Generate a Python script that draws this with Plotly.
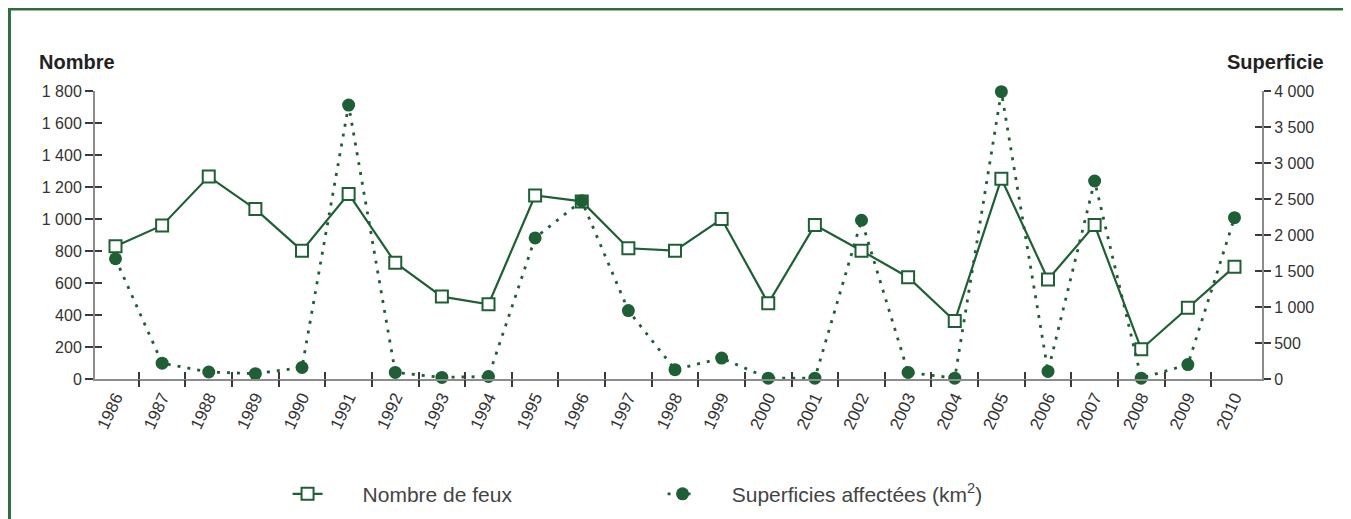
import plotly.graph_objects as go

years = list(range(1986, 2011))
nombre_feux = [830, 960, 1265, 1062, 802, 1157, 727, 515, 467, 1147, 1110, 817, 802, 1000,
               473, 962, 802, 636, 362, 1252, 622, 962, 186, 446, 702]
superficies = [1670, 220, 97, 74, 160, 3805, 92, 22, 35, 1960, 2475, 950, 130, 290,
               12, 12, 2205, 92, 12, 3990, 105, 2750, 12, 200, 2240]
left_ticks = list(range(0, 1801, 200))
right_ticks = list(range(0, 4001, 500))
boundaries = [y + 0.5 for y in years[:-1]]

GREEN = "#1f5f35"
FRAME = "#2e6e3e"
AXIS = "#8c8c8c"
TICK = "#3a3a3a"
TXT = "#333333"
FONT = "Liberation Sans, Arial, sans-serif"
NB = "\u00a0"

xr = [1985.56, 2010.59]

fig = go.Figure()

fig.add_trace(go.Scatter(
    x=years, y=nombre_feux, name=NB * 6 + "Nombre de feux", mode="lines+markers",
    line=dict(color=GREEN, width=2.2),
    marker=dict(symbol="square", size=12, color="white", line=dict(color=GREEN, width=2)),
    cliponaxis=False, xaxis="x", yaxis="y"))

fig.add_trace(go.Scatter(
    x=years, y=superficies, name=NB * 5 + "Superficies affectées (km<sup>2</sup>)", mode="lines+markers",
    line=dict(color=GREEN, width=2.8, dash="3px,7px"),
    marker=dict(symbol="circle", size=13, color=GREEN),
    cliponaxis=False, xaxis="x", yaxis="y2"))

# helper traces to register the tick-only overlay axes
for xa, ya in [("x2", "y"), ("x3", "y"), ("x", "y3"), ("x", "y4")]:
    fig.add_trace(go.Scatter(x=[None], y=[None], xaxis=xa, yaxis=ya, showlegend=False,
                             hoverinfo="skip", mode="markers"))

fig.update_layout(
    width=1343, height=560,
    margin=dict(l=87, r=89, t=83, b=189),
    paper_bgcolor="white", plot_bgcolor="white",
    font=dict(family=FONT, color=TXT, size=16),
    separators=", ",
    showlegend=True,
    legend=dict(orientation="h", x=0.165, xanchor="left", y=-0.40, yanchor="middle",
                font=dict(size=21, color="#444444"), entrywidth=330, entrywidthmode="pixels",
                bgcolor="rgba(0,0,0,0)"),
    xaxis=dict(range=xr, tickmode="array", tickvals=years, ticktext=[str(y) for y in years],
               tickangle=-65, ticks="", showline=True, linecolor=AXIS, linewidth=2,
               showgrid=False, zeroline=False, tickfont=dict(size=17, color=TXT)),
    xaxis2=dict(range=xr, overlaying="x", anchor="y", side="bottom", tickmode="array",
                tickvals=boundaries, ticks="outside", ticklen=7, tickwidth=1.5, tickcolor=TICK,
                showticklabels=False, showline=False, showgrid=False, zeroline=False),
    xaxis3=dict(range=xr, overlaying="x", anchor="y", side="bottom", tickmode="array",
                tickvals=boundaries, ticks="inside", ticklen=7, tickwidth=1.5, tickcolor=TICK,
                showticklabels=False, showline=False, showgrid=False, zeroline=False),
    yaxis=dict(range=[0, 1800], tickmode="array", tickvals=left_ticks, separatethousands=True,
               ticks="outside", ticklen=8, tickwidth=1.5, tickcolor=TICK,
               showline=True, linecolor=AXIS, linewidth=2, showgrid=False, zeroline=False,
               tickfont=dict(size=16, color=TXT)),
    yaxis3=dict(range=[0, 1800], overlaying="y", anchor="x", side="left", tickmode="array",
                tickvals=left_ticks, ticks="inside", ticklen=7, tickwidth=1.5, tickcolor=TICK,
                showticklabels=False, showline=False, showgrid=False, zeroline=False),
    yaxis2=dict(range=[0, 4000], overlaying="y", anchor="x", side="right", tickmode="array",
                tickvals=right_ticks, separatethousands=True,
                ticks="outside", ticklen=7, tickwidth=1.5, tickcolor=TICK,
                showline=True, linecolor=AXIS, linewidth=2, showgrid=False, zeroline=False,
                tickfont=dict(size=16, color=TXT)),
    yaxis4=dict(range=[0, 4000], overlaying="y", anchor="x", side="right", tickmode="array",
                tickvals=right_ticks, ticks="inside", ticklen=7, tickwidth=1.5, tickcolor=TICK,
                showticklabels=False, showline=False, showgrid=False, zeroline=False),
    annotations=[
        dict(text="<b>Nombre</b>", xref="paper", yref="paper", x=-0.0497, y=1.10,
             xanchor="left", yanchor="middle", showarrow=False, font=dict(size=20, color="#222222")),
        dict(text="<b>Superficie</b>", xref="paper", yref="paper", x=1.0548, y=1.10,
             xanchor="right", yanchor="middle", showarrow=False, font=dict(size=20, color="#222222")),
    ],
    shapes=[dict(type="rect", xref="paper", yref="paper", x0=-0.0733, x1=1.0737, y0=-0.62, y1=1.2847,
                 line=dict(color=FRAME, width=3), fillcolor="rgba(0,0,0,0)", layer="below")],
)

fig.write_html("out.html")
